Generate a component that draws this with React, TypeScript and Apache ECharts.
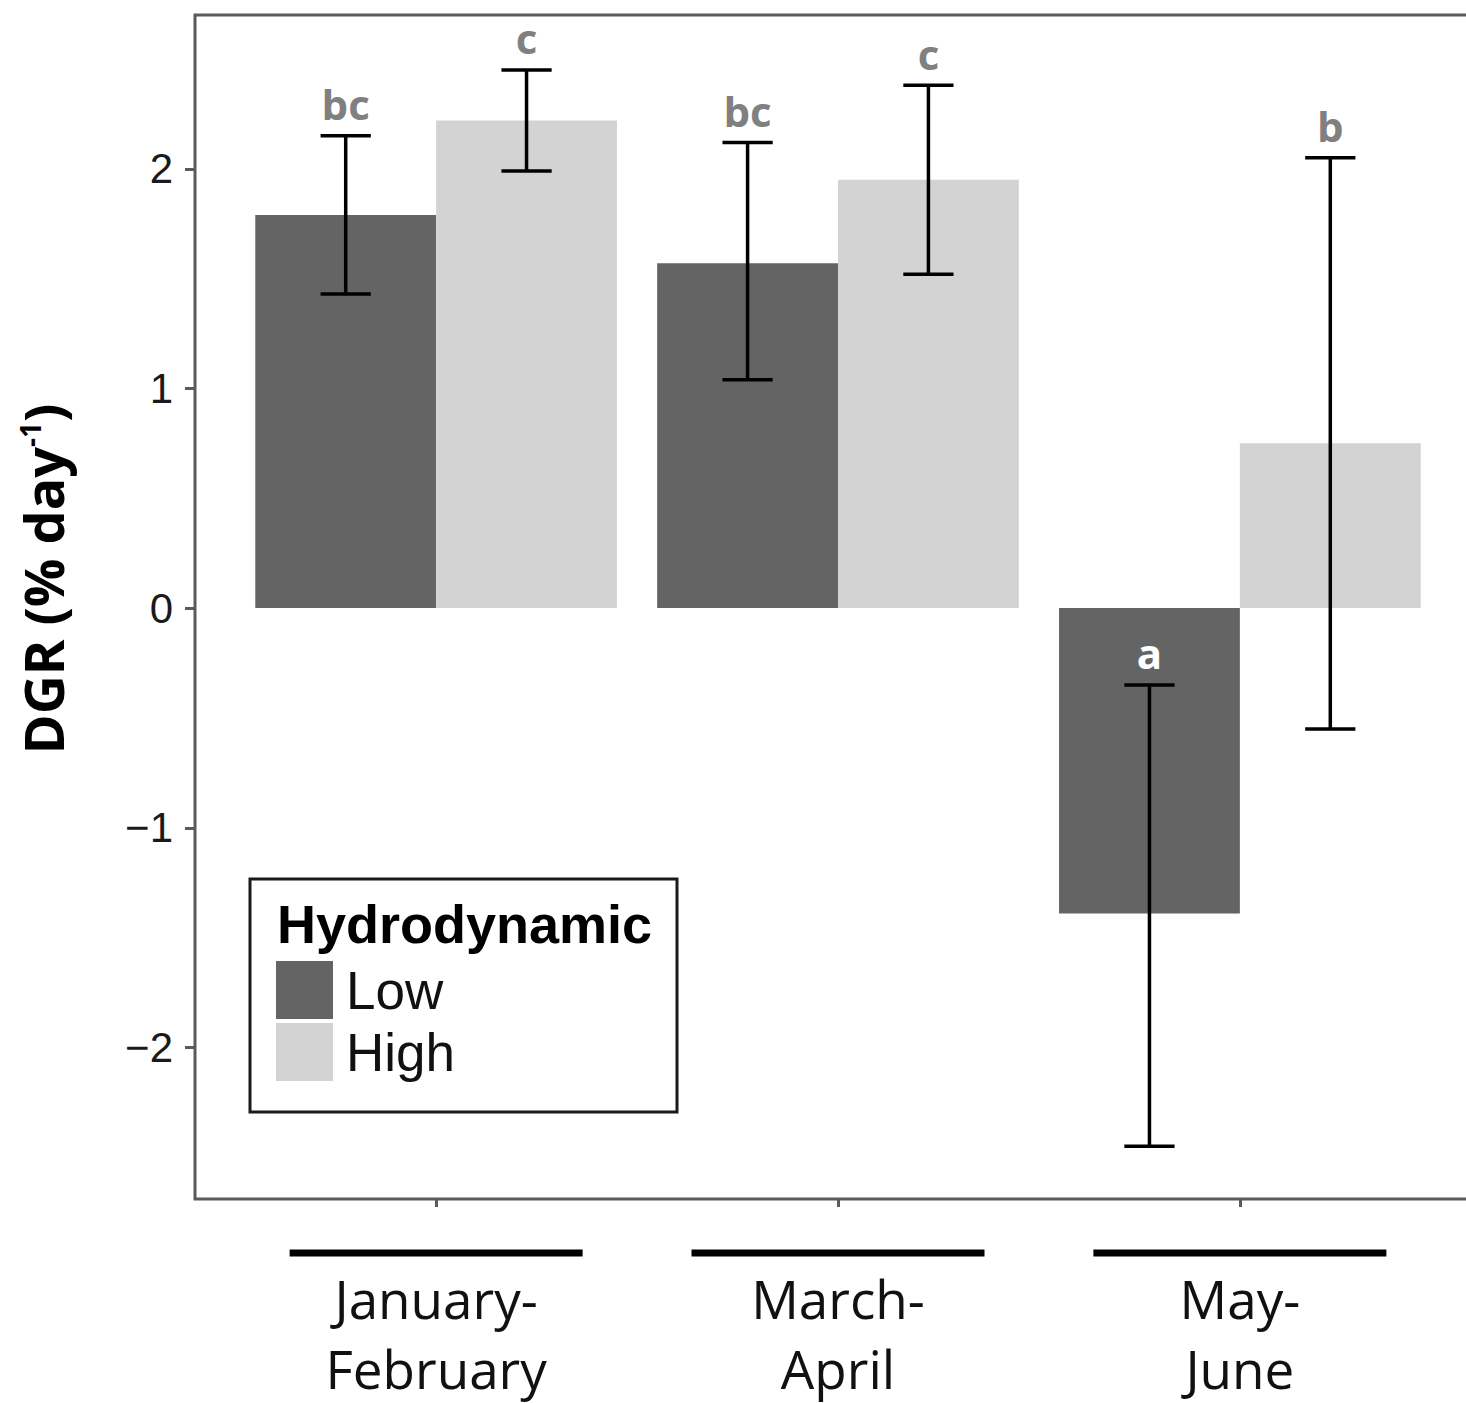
import React, { useEffect, useRef } from "react";
import * as echarts from "echarts";

const categories = ["January-\nFebruary", "March-\nApril", "May-\nJune"];
const xPositions = [1, 2, 3];
const seriesNames = ["Low", "High"];
const lowMeans = [1.79, 1.57, -1.39];
const highMeans = [2.22, 1.95, 0.75];
const lowUpper = [2.15, 2.12, -0.35];
const lowLower = [1.43, 1.04, -2.45];
const highUpper = [2.45, 2.38, 2.05];
const highLower = [1.99, 1.52, -0.55];
const lowLetters = ["bc", "bc", "a"];
const highLetters = ["c", "c", "b"];
const yTicks = [-2, -1, 0, 1, 2];
const legendTitle = "Hydrodynamic";

const DARK = "#646464";
const LIGHT = "#d3d3d3";
const BAR_W = 0.45;
const CAP_HALF = 0.0625;

function barSeries(name: string, means: number[], offset: number, color: string) {
  return {
    type: "custom",
    name,
    clip: false,
    itemStyle: { color },
    encode: { x: 0, y: 1 },
    data: means.map((v, i) => [xPositions[i], v]),
    renderItem: (params: any, api: any) => {
      const x = api.value(0);
      const v = api.value(1);
      const p0 = api.coord([x + offset, v]);
      const p1 = api.coord([x + offset + BAR_W, 0]);
      return {
        type: "rect",
        shape: {
          x: Math.min(p0[0], p1[0]),
          y: Math.min(p0[1], p1[1]),
          width: Math.abs(p1[0] - p0[0]),
          height: Math.abs(p1[1] - p0[1]),
        },
        style: { fill: color },
      };
    },
  };
}

function errorSeries(lower: number[], upper: number[], letters: string[], offset: number) {
  return {
    type: "custom",
    clip: false,
    silent: true,
    encode: { x: 0, y: [1, 2] },
    data: lower.map((lo, i) => [xPositions[i], lo, upper[i], letters[i]]),
    renderItem: (params: any, api: any) => {
      const x = api.value(0) + offset;
      const lo = api.value(1);
      const hi = api.value(2);
      const letter = letters[params.dataIndex];
      const top = api.coord([x, hi]);
      const bot = api.coord([x, lo]);
      const tl = api.coord([x - CAP_HALF, hi]);
      const tr = api.coord([x + CAP_HALF, hi]);
      const bl = api.coord([x - CAP_HALF, lo]);
      const br = api.coord([x + CAP_HALF, lo]);
      const ls = { stroke: "#000", lineWidth: 3.5 };
      const inside = hi < 0;
      return {
        type: "group",
        children: [
          { type: "line", shape: { x1: top[0], y1: top[1], x2: bot[0], y2: bot[1] }, style: ls },
          { type: "line", shape: { x1: tl[0], y1: tl[1], x2: tr[0], y2: tr[1] }, style: ls },
          { type: "line", shape: { x1: bl[0], y1: bl[1], x2: br[0], y2: br[1] }, style: ls },
          {
            type: "text",
            x: top[0],
            y: top[1] - 11,
            style: {
              text: letter,
              fill: inside ? "#ffffff" : "#808080",
              fontSize: 42,
              fontWeight: "bold",
              fontFamily: "Open Sans",
              align: "center",
              verticalAlign: "bottom",
            },
          },
        ],
      };
    },
  };
}

export default function App() {
  const ref = useRef<HTMLDivElement>(null);
  useEffect(() => {
    if (!ref.current) return;
    const chart = echarts.init(ref.current, undefined, { renderer: "svg" });
    const option: any = {
      animation: false,
      backgroundColor: "#ffffff",
      grid: {
        left: 195,
        top: 15,
        bottom: 204,
        right: 4,
        show: true,
        borderColor: "#5a5a5a",
        borderWidth: 3,
        backgroundColor: "transparent",
      },
      xAxis: {
        type: "value",
        min: 0.4,
        max: 3.6,
        splitLine: { show: false },
        axisLine: { show: false, onZero: false },
        axisTick: {
          show: true,
          customValues: xPositions,
          length: 8,
          lineStyle: { color: "#5a5a5a", width: 3 },
        },
        axisLabel: {
          show: true,
          customValues: xPositions,
          margin: 44,
          formatter: (val: number) => {
            const i = xPositions.indexOf(Math.round(val));
            if (i < 0) return "";
            return "{bar| }\n" + categories[i].split("\n").map((s) => `{t|${s}}`).join("\n");
          },
          rich: {
            bar: { width: 293, height: 7, lineHeight: 20, backgroundColor: "#000", fontSize: 1 },
            t: { fontSize: 53, lineHeight: 70, fontFamily: "Open Sans", color: "#111" },
          },
        },
      },
      yAxis: {
        type: "value",
        min: -2.69,
        max: 2.7,
        splitLine: { show: false },
        axisLine: { show: false },
        axisTick: {
          show: true,
          customValues: yTicks,
          length: 10,
          lineStyle: { color: "#5a5a5a", width: 3 },
        },
        axisLabel: {
          customValues: yTicks,
          margin: 22,
          fontSize: 42,
          fontFamily: "Liberation Sans",
          color: "#1a1a1a",
          formatter: (v: number) => String(Math.round(v)).replace("-", "\u2212"),
        },
        name: "{b|DGR (% day}{s|-1}{b|)}",
        nameLocation: "middle",
        nameGap: 125,
        nameTextStyle: {
          padding: [0, 0, 0, 56],
          rich: {
            b: { fontSize: 54, fontWeight: "bold", fontFamily: "Open Sans", color: "#000" },
            s: { fontSize: 28, fontWeight: "bold", fontFamily: "Open Sans", color: "#000", verticalAlign: "top" },
          },
        },
      },
      legend: {
        show: true,
        data: seriesNames,
        orient: "vertical",
        left: 250,
        top: 879,
        icon: "rect",
        itemWidth: 57,
        itemHeight: 58,
        itemGap: 4,
        padding: [82, 222, 31, 26],
        borderColor: "#1a1a1a",
        borderWidth: 3,
        backgroundColor: "#ffffff",
        textStyle: {
          fontSize: 53,
          fontFamily: "Liberation Sans",
          color: "#111",
          padding: [0, 0, 0, 8],
          lineHeight: 58,
        },
        selectedMode: false,
      },
      graphic: [
        {
          type: "text",
          left: 277,
          top: 897,
          z: 100,
          style: {
            text: legendTitle,
            fontSize: 54,
            fontWeight: "bold",
            fontFamily: "Liberation Sans",
            fill: "#000",
          },
        },
      ],
      series: [
        barSeries(seriesNames[0], lowMeans, -BAR_W, DARK),
        barSeries(seriesNames[1], highMeans, 0, LIGHT),
        errorSeries(lowLower, lowUpper, lowLetters, -BAR_W / 2),
        errorSeries(highLower, highUpper, highLetters, BAR_W / 2),
      ],
    };
    chart.setOption(option);
    return () => chart.dispose();
  }, []);
  return (
    <div style={{ position: "absolute", left: 0, top: 0, width: 1466, height: 1403, overflow: "hidden", background: "#fff" }}>
      <div ref={ref} style={{ width: 1485, height: 1403 }} />
    </div>
  );
}
